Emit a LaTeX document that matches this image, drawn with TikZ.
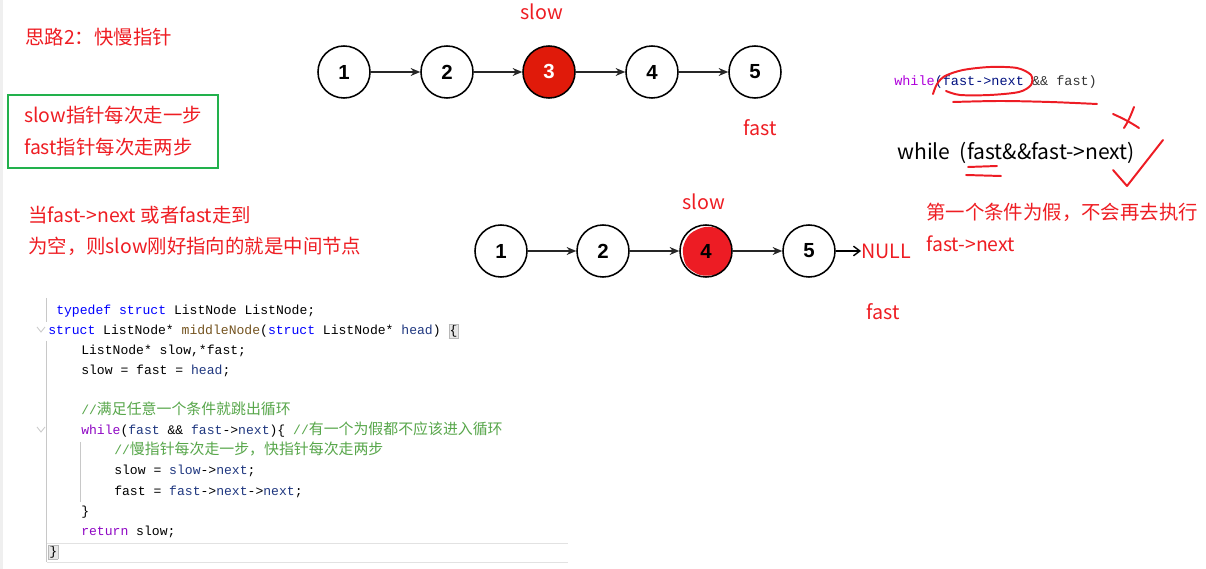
\documentclass[tikz,border=0pt]{standalone}
\usepackage{xcolor}
\usepackage{tikz}
\usepackage{fontspec}
\setmainfont{Noto Sans CJK SC}
\setmonofont{Liberation Mono}
\newfontfamily\cjk{Noto Sans CJK SC}
\newfontfamily\arialfont{Liberation Sans}
\usetikzlibrary{arrows.meta, positioning, backgrounds}
\definecolor{notered}{HTML}{EE1D23}
\definecolor{markred}{HTML}{ED1C24}
\definecolor{nodered}{HTML}{E01A0A}
\definecolor{boxgreen}{HTML}{22B14C}
\definecolor{kwblue}{HTML}{0000FF}
\definecolor{flowpurple}{HTML}{8F08C4}
\definecolor{varblue}{HTML}{1F377F}
\definecolor{fnbrown}{HTML}{74531F}
\definecolor{cmtgreen}{HTML}{57A64A}
\definecolor{condpurple}{HTML}{AF00DB}
\definecolor{conddark}{HTML}{001080}
\definecolor{guidegray}{HTML}{C8C8C8}
\definecolor{linegray}{HTML}{E2E2E2}
\definecolor{bracegray}{HTML}{B8B8B8}
\definecolor{bracefill}{HTML}{E6E6E6}
\definecolor{edgegray}{HTML}{EFEFEF}
\newcommand\ckw[1]{\textcolor{kwblue}{#1}}
\newcommand\cflow[1]{\textcolor{flowpurple}{#1}}
\newcommand\cvar[1]{\textcolor{varblue}{#1}}
\newcommand\cfn[1]{\textcolor{fnbrown}{#1}}
\newcommand\ccmt[1]{{\color{cmtgreen}//\cjk\fontsize{10.6}{12}\selectfont #1}}
\newcommand\bracebox[1]{{\setlength{\fboxsep}{0.4pt}\fcolorbox{bracegray}{bracefill}{#1}}}

\begin{document}
\begin{tikzpicture}[x=0.025cm, y=-0.025cm,
    listnode/.style={circle, draw=black, line width=1.1pt, minimum size=1.3cm, inner sep=0pt,
                     font=\arialfont\bfseries\fontsize{14.5}{16}\selectfont},
    link/.style={-{Stealth[length=2.4mm, width=2mm]}, line width=0.9pt, color=black!85},
    note/.style={text=notered, font=\fontsize{13.8}{22}\selectfont, inner sep=0pt},
    ptrlabel/.style={text=notered, font=\fontsize{14}{16}\selectfont, inner sep=0pt},
    codeline/.style={anchor=west, inner sep=0pt, font=\ttfamily\fontsize{9.3}{11}\selectfont,
                     text height=7pt, text depth=2pt},
    scribble/.style={draw=markred, line width=1.4pt, line cap=round, line join=round},
    guide/.style={draw=guidegray, line width=0.6pt}
]
\useasboundingbox (0,0) rectangle (1206,569);
\fill[edgegray] (0,0) rectangle (3,569);

% idea and rule
\node[note, anchor=west] (title) at (25,37) {思路2：快慢指针};
\node[draw=boxgreen, line width=1.5pt, minimum width=5.25cm, minimum height=1.825cm, align=left,
      text=notered, font=\fontsize{13.8}{22.7}\selectfont] (rule) at (113,131.5)
      {slow指针每次走一步\\fast指针每次走两步};
\node[note, anchor=west, align=left] (cond) at (28,230.5)
      {当fast->next 或者fast走到\\为空，则slow刚好指向的就是中间节点};

% odd list
\node[listnode] (a1) at (344,72) {1};
\node[listnode] (a2) at (447,72) {2};
\node[listnode, fill=nodered, text=white] (a3) at (549,72) {3};
\node[listnode] (a4) at (652,72) {4};
\node[listnode] (a5) at (755,72) {5};
\draw[link] (a1) -- (a2);
\draw[link] (a2) -- (a3);
\draw[link] (a3) -- (a4);
\draw[link] (a4) -- (a5);
\node[ptrlabel] (slowA) at (542,12) {slow};
\node[ptrlabel] (fastA) at (760,128) {fast};

% even list
\node[listnode] (b1) at (501,251) {1};
\node[listnode] (b2) at (603,251) {2};
\node[listnode] (b4) at (706,251) {4};
\node[listnode] (b5) at (809,251) {5};
\node[ptrlabel, anchor=west] (null) at (861,251) {NULL};
\draw[link] (b1) -- (b2);
\draw[link] (b2) -- (b4);
\draw[link] (b4) -- (b5);
\draw[-{Straight Barb[length=1.6mm, width=2.4mm]}, line width=1pt] (b5) -- (null);
\begin{scope}[on background layer]
  \fill[markred] plot[smooth cycle] coordinates {(690,234) (705,227) (722,230) (731,245) (730,262) (718,274) (700,275) (686,265) (683,248)};
\end{scope}
\node[ptrlabel] (slowB) at (704,202) {slow};
\node[ptrlabel] (fastB) at (883,312) {fast};

% loop condition
\node[codeline, font=\ttfamily\fontsize{9.6}{11}\selectfont] (oldcond) at (894,82)
      {\textcolor{condpurple}{while}\textcolor{conddark}{(fast->next }\textcolor{black!80}{\&\& fast)}};
\node[anchor=west, inner sep=0pt, font=\fontsize{15}{17}\selectfont] (newcond) at (897,153)
      {while\ \ (fast\&\&fast->next)};
\node[note, anchor=west, align=left, font=\fontsize{13.8}{22.7}\selectfont] (why) at (926,227)
      {第一个条件为假，不会再去执行\\fast->next};
\draw[scribble] plot[smooth] coordinates {(933,94) (937,84) (945,76) (963,70) (990,67) (1017,68) (1031,75) (1031,85) (1019,92) (990,95) (960,95) (946,91)};
\draw[scribble] plot[smooth] coordinates {(953,102) (1000,101) (1050,102) (1097,104)};
\draw[scribble] (1113,114) .. controls (1122,118) and (1130,122) .. (1139,128);
\draw[scribble] (1134,107) .. controls (1131,115) and (1128,122) .. (1124,128);
\draw[scribble] (1113,170) -- (1127,186) -- (1163,140);
\draw[scribble] (968,167) -- (997,166);
\draw[scribble] (966,175) -- (1001,176);

% code
\draw[guide] (46,298) -- (46,322);
\draw[guide] (46,341) -- (46,562);
\draw[guide] (80,442) -- (80,502);
\draw[guide] (37,327) -- (41,332) -- (45,327);
\draw[guide] (37,427) -- (41,432) -- (45,427);
\draw[draw=linegray] (47,543) -- (568,543);
\draw[draw=linegray] (47,562) -- (568,562);
\node[codeline] (c1) at (56,311) {\ckw{typedef} \ckw{struct} ListNode ListNode;};
\node[codeline] (c2) at (48,331) {\ckw{struct} ListNode* \cfn{middleNode}(\ckw{struct} ListNode* \cvar{head}) \bracebox{\{}};
\node[codeline] (c3) at (81,351) {ListNode* slow,*fast;};
\node[codeline] (c4) at (81,371) {slow = fast = \cvar{head};};
\node[codeline] (c5) at (81,411) {\ccmt{满足任意一个条件就跳出循环}};
\node[codeline] (c6) at (81,431) {\cflow{while}(\cvar{fast} \&\& \cvar{fast}->\cvar{next})\{ \ccmt{有一个为假都不应该进入循环}};
\node[codeline] (c7) at (114,451) {\ccmt{慢指针每次走一步，快指针每次走两步}};
\node[codeline] (c8) at (114,471) {slow = \cvar{slow}->\cvar{next};};
\node[codeline] (c9) at (114,492) {fast = \cvar{fast}->\cvar{next}->\cvar{next};};
\node[codeline] (c10) at (81,512) {\}};
\node[codeline] (c11) at (81,532) {\cflow{return} slow;};
\node[codeline] (c12) at (48,552) {\bracebox{\}}};
\end{tikzpicture}
\end{document}
